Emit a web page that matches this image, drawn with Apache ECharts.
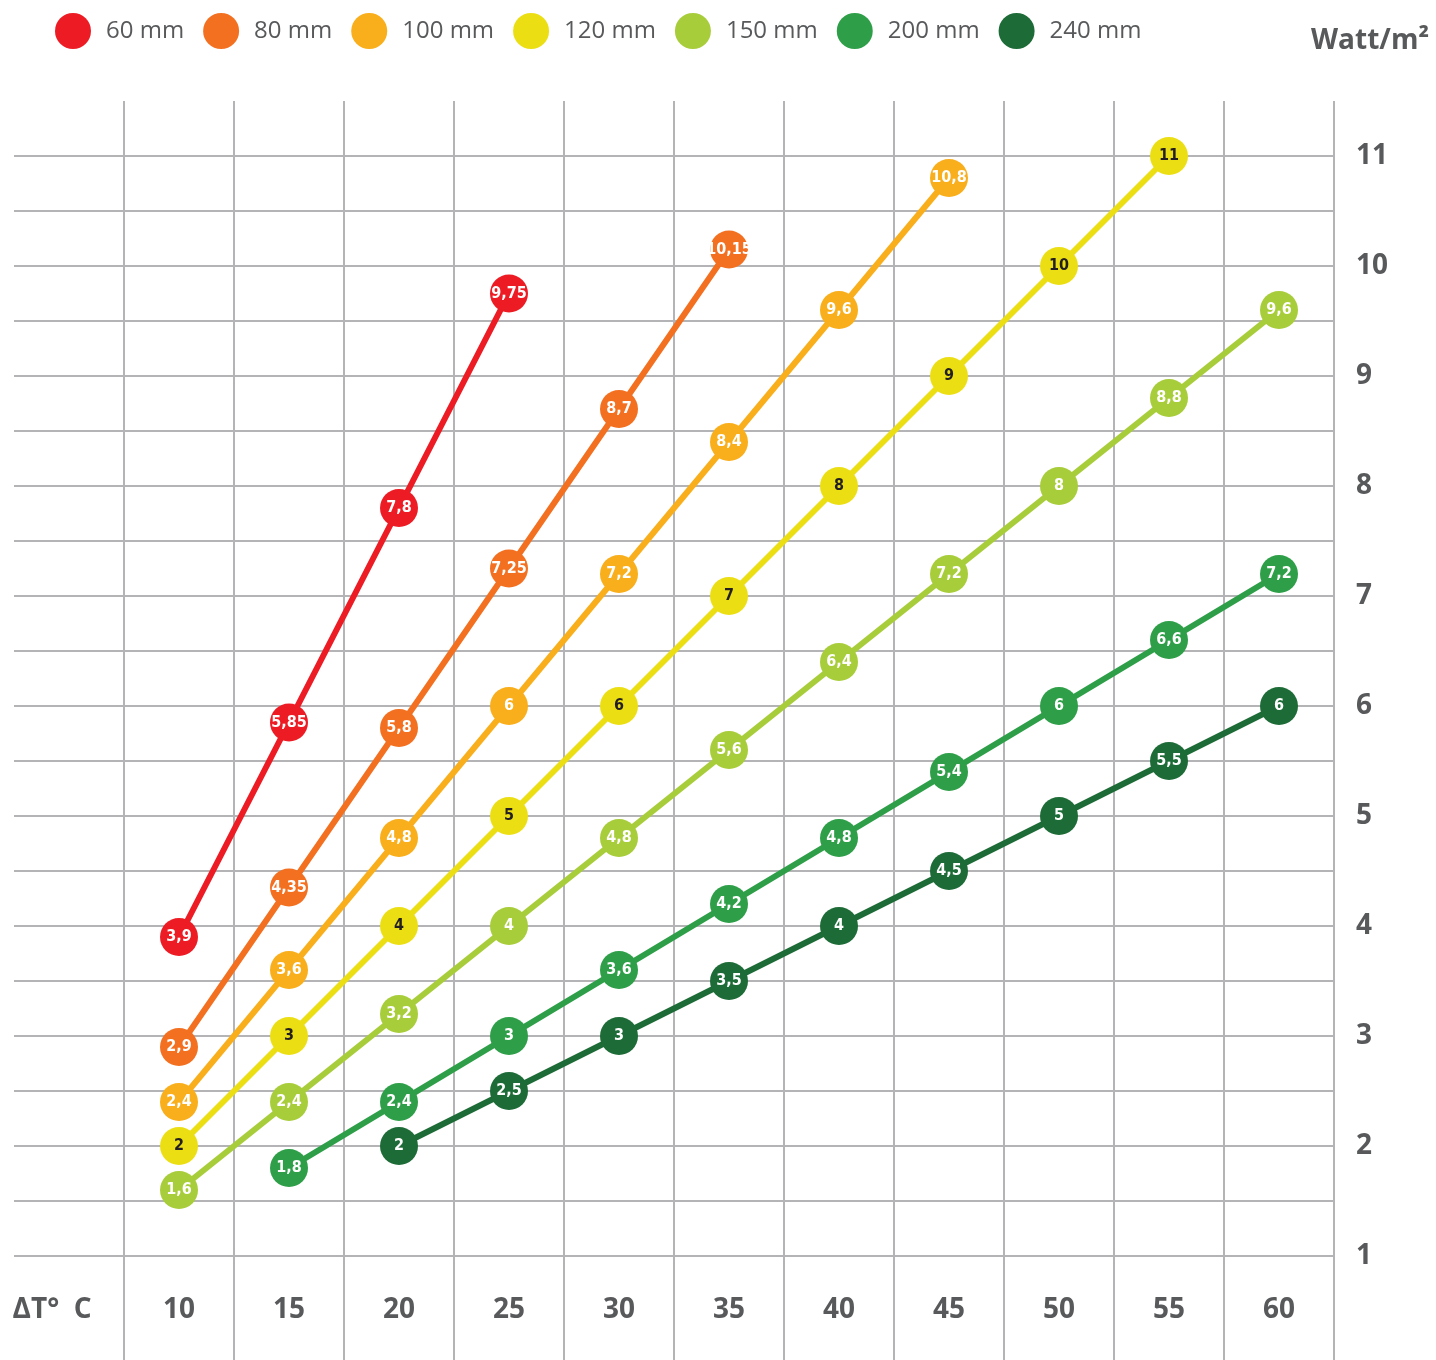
<!DOCTYPE html>
<html>
<head>
<meta charset="utf-8">
<script src="https://cdn.jsdelivr.net/npm/echarts@6/dist/echarts.min.js"></script>
<style>
  html, body { margin: 0; padding: 0; background: #fff; }
  #chart { width: 1436px; height: 1360px; }
</style>
</head>
<body>
<div id="chart"></div>
<script>
// x categories (first slot holds the axis title)
const categories = ['ΔT°  C', '10', '15', '20', '25', '30', '35', '40', '45', '50', '55', '60'];
const yTicks = [1, 2, 3, 4, 5, 6, 7, 8, 9, 10, 11];

// Watt/m² per ΔT (10..60)
const mm60  = [3.9, 5.85, 7.8, 9.75, null, null, null, null, null, null, null];
const mm80  = [2.9, 4.35, 5.8, 7.25, 8.7, 10.15, null, null, null, null, null];
const mm100 = [2.4, 3.6, 4.8, 6, 7.2, 8.4, 9.6, 10.8, null, null, null];
const mm120 = [2, 3, 4, 5, 6, 7, 8, 9, 10, 11, null];
const mm150 = [1.6, 2.4, 3.2, 4, 4.8, 5.6, 6.4, 7.2, 8, 8.8, 9.6];
const mm200 = [null, 1.8, 2.4, 3, 3.6, 4.2, 4.8, 5.4, 6, 6.6, 7.2];
const mm240 = [null, null, 2, 2.5, 3, 3.5, 4, 4.5, 5, 5.5, 6];

const names = ['60 mm', '80 mm', '100 mm', '120 mm', '150 mm', '200 mm', '240 mm'];
const colors = ['#ed1c24', '#f37021', '#f9ae1b', '#ebdf14', '#a8cd3a', '#2e9f48', '#1d6b37'];
const allData = [mm60, mm80, mm100, mm120, mm150, mm200, mm240];

const GREY = '#58595b';
const GRID = '#b4b4b6';

const chart = echarts.init(document.getElementById('chart'));

const series = allData.map((d, i) => ({
  name: names[i],
  type: 'line',
  data: [null].concat(d),
  symbol: 'circle',
  symbolSize: 38,
  showAllSymbol: true,
  connectNulls: false,
  itemStyle: { color: colors[i] },
  lineStyle: { color: colors[i], width: 6 },
  label: {
    show: true,
    position: 'inside',
    color: i === 3 ? '#231f20' : '#ffffff',
    fontSize: 16,
    fontWeight: 'bold',
    fontFamily: '"DejaVu Sans Condensed", "Liberation Sans Narrow", sans-serif',
    formatter: (p) => String(p.value).replace('.', ',')
  },
  emphasis: { disabled: true },
  z: 3 + i
}));

chart.setOption({
  animation: false,
  backgroundColor: '#fff',
  title: {
    text: 'Watt/m²',
    right: 2,
    top: 22,
    textStyle: { color: GREY, fontSize: 28, fontWeight: 'bold', fontFamily: 'Open Sans' }
  },
  legend: {
    data: names,
    left: 50,
    top: 8,
    icon: 'circle',
    itemWidth: 36,
    itemHeight: 36,
    itemGap: 19,
    textStyle: { color: GREY, fontSize: 24, fontFamily: 'Open Sans', padding: [0, 0, 0, 10] }
  },
  grid: { left: 14, right: 102, top: 101, bottom: 104 },
  xAxis: {
    type: 'category',
    data: categories,
    boundaryGap: true,
    axisLine: { show: false },
    axisTick: {
      show: true,
      length: 104,
      interval: (i) => i !== 0,
      lineStyle: { color: GRID, width: 2 }
    },
    splitLine: {
      show: true,
      interval: (i) => i !== 0,
      lineStyle: { color: GRID, width: 2 }
    },
    axisLabel: {
      interval: 0,
      margin: 40,
      color: GREY,
      fontSize: 28,
      fontWeight: 'bold',
      fontFamily: 'Open Sans',
      formatter: (v, i) => (i === 0 ? '{dt|' + v + '}' : v),
      rich: {
        dt: { color: GREY, fontSize: 28, fontWeight: 'bold', fontFamily: 'Open Sans', padding: [0, 34, 0, 0] }
      }
    }
  },
  yAxis: {
    type: 'value',
    position: 'right',
    min: 1,
    max: 11.5,
    interval: 0.5,
    axisLine: { show: false },
    axisTick: { show: false },
    splitLine: { show: true, showMaxLine: false, lineStyle: { color: GRID, width: 2 } },
    axisLabel: {
      margin: 22,
      color: GREY,
      fontSize: 28,
      fontWeight: 'bold',
      fontFamily: 'Open Sans',
      formatter: (v) => (yTicks.indexOf(v) >= 0 ? String(v) : '')
    }
  },
  series: series
});
</script>
</body>
</html>
